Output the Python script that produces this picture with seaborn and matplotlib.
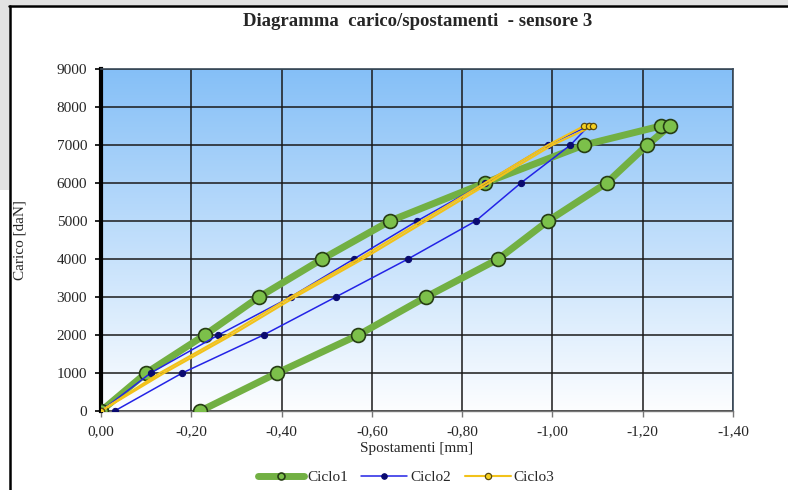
import numpy as np
import pandas as pd
import seaborn as sns
import matplotlib.pyplot as plt
from matplotlib.lines import Line2D
from matplotlib.patches import Rectangle
from matplotlib.ticker import FuncFormatter

# data: displacement [mm] and load [daN], in test order
c1_x = [0.00, -0.10, -0.23, -0.35, -0.49, -0.64, -0.85, -1.07, -1.24, -1.26,
        -1.21, -1.12, -0.99, -0.88, -0.72, -0.57, -0.39, -0.22]
c1_y = [0, 1000, 2000, 3000, 4000, 5000, 6000, 7000, 7500, 7500,
        7000, 6000, 5000, 4000, 3000, 2000, 1000, 0]

c2_x = [0.00, -0.11, -0.26, -0.42, -0.56, -0.70, -0.85, -0.99, -1.08,
        -1.04, -0.93, -0.83, -0.68, -0.52, -0.36, -0.18, -0.03]
c2_y = [0, 1000, 2000, 3000, 4000, 5000, 6000, 7000, 7500,
        7000, 6000, 5000, 4000, 3000, 2000, 1000, 0]

c3_x = [0.00, -0.13, -0.28, -0.42, -0.57, -0.71, -0.85, -0.99, -1.07, -1.08,
        -1.09, -1.00, -0.86, -0.72, -0.58, -0.43, -0.29, -0.14, 0.00]
c3_y = [0, 1000, 2000, 3000, 4000, 5000, 6000, 7000, 7500, 7500,
        7500, 7000, 6000, 5000, 4000, 3000, 2000, 1000, 0]

x_ticks = [0.0, -0.2, -0.4, -0.6, -0.8, -1.0, -1.2, -1.4]
y_ticks = list(range(0, 9001, 1000))

sns.set_theme(style="white")
plt.rcParams["font.family"] = ["Liberation Serif", "DejaVu Serif"]

fig = plt.figure(figsize=(7.88, 4.90), dpi=100)
fig.patch.set_facecolor("white")

# screenshot frame: grey strips and black border line
fig.patches.append(Rectangle((0, 1 - 5 / 490), 1, 5 / 490, transform=fig.transFigure,
                             facecolor="#e2e2e2", edgecolor="none", zorder=0))
fig.patches.append(Rectangle((0, 1 - 190 / 490), 9 / 788, 190 / 490, transform=fig.transFigure,
                             facecolor="#e2e2e2", edgecolor="none", zorder=0))
fig.lines.append(Line2D([9 / 788, 1], [1 - 6 / 490, 1 - 6 / 490], transform=fig.transFigure,
                        color="black", lw=1.8))
fig.lines.append(Line2D([10 / 788, 10 / 788], [0, 1 - 6 / 490], transform=fig.transFigure,
                        color="black", lw=1.8))

ax = fig.add_axes([101 / 788, 79 / 490, 632 / 788, 342 / 490])

# blue-to-white gradient background
grad = np.linspace(0, 1, 256).reshape(-1, 1)
top = np.array([0.52, 0.75, 0.97])
bot = np.array([0.99, 0.995, 1.0])
img = bot + (top - bot) * grad[:, :, None] * np.ones((1, 1, 3))
ax.imshow(img, extent=[0, 1, 0, 1], transform=ax.transAxes, origin="lower",
          aspect="auto", zorder=0)

df1 = pd.DataFrame({"x": c1_x, "y": c1_y})
df2 = pd.DataFrame({"x": c2_x, "y": c2_y})
df3 = pd.DataFrame({"x": c3_x, "y": c3_y})

sns.lineplot(data=df1, x="x", y="y", sort=False, estimator=None, ax=ax,
             color="#72b043", lw=5, marker="o", markersize=10,
             markerfacecolor="#7cc04a", markeredgecolor="#263d14",
             markeredgewidth=1.2, label="Ciclo1", zorder=3)
sns.lineplot(data=df2, x="x", y="y", sort=False, estimator=None, ax=ax,
             color="#2323e6", lw=1.1, marker="o", markersize=4.5,
             markerfacecolor="#0a0a70", markeredgecolor="#0a0a70",
             label="Ciclo2", zorder=4)
sns.lineplot(data=df3, x="x", y="y", sort=False, estimator=None, ax=ax,
             color="#f2c21a", lw=1.5, marker="o", markersize=4.5,
             markevery=[0, 8, 9, 10, 18],
             markerfacecolor="#f5d020", markeredgecolor="#5a4a10",
             markeredgewidth=0.9, label="Ciclo3", zorder=5)

ax.set_xlim(0, -1.4)
ax.set_ylim(0, 9000)
ax.set_xticks(x_ticks)
ax.set_yticks(y_ticks)
ax.xaxis.set_major_formatter(FuncFormatter(lambda v, p: f"{v:.2f}".replace(".", ",").replace("-0,00", "0,00")))
ax.grid(True, color="#1a1a1a", lw=1.1, zorder=1)
ax.set_axisbelow(True)

for s in ["top", "right"]:
    ax.spines[s].set_color("#3a4a5a")
    ax.spines[s].set_linewidth(1.2)
ax.spines["bottom"].set_color("#777777")
ax.spines["bottom"].set_linewidth(1.0)
ax.spines["left"].set_color("black")
ax.spines["left"].set_linewidth(3)

ax.tick_params(axis="y", which="major", left=True, length=4, width=1.2, color="black",
               labelsize=11, pad=6)
ax.tick_params(axis="x", which="major", bottom=True, length=4, width=1, color="#777777",
               labelsize=11, pad=6)

ax.set_xlabel("Spostamenti [mm]", fontsize=11, labelpad=3)
ax.set_ylabel("Carico [daN]", fontsize=11, labelpad=22)

fig.text(0.53, 1 - 22 / 490, "Diagramma  carico/spostamenti  - sensore 3",
         ha="center", va="center", fontsize=13.5, fontweight="bold")

leg = ax.legend(loc="center", bbox_to_anchor=(0.483, -0.193), ncol=3, frameon=False,
                fontsize=11, handlelength=3.0, columnspacing=0.9, handletextpad=0.2)
for h, ms in zip(leg.legend_handles, [5, 4, 4.5]):
    h.set_markersize(ms)

fig.savefig("out.png", dpi=100)
